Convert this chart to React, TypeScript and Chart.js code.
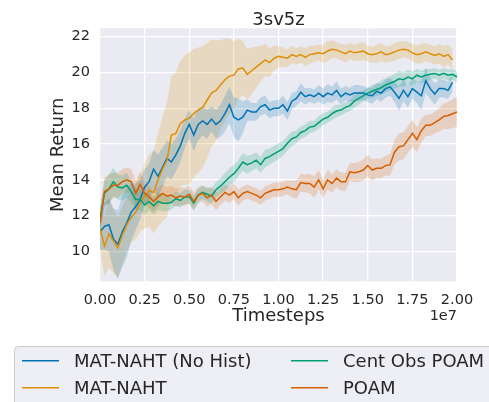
import React, { useEffect, useRef } from 'react';
import { Chart, registerables } from 'chart.js';

Chart.register(...registerables);

const TITLE = '3sv5z';
const X_LABEL = 'Timesteps';
const Y_LABEL = 'Mean Return';
const X_OFFSET_LABEL = '1e7';

// timesteps in millions
const TIMESTEPS_M = [
  0, 0.25, 0.5, 0.75, 1, 1.25, 1.5, 1.75, 2, 2.25,
  2.5, 2.75, 3, 3.25, 3.5, 3.75, 4, 4.25, 4.5, 4.75,
  5, 5.25, 5.5, 5.75, 6, 6.25, 6.5, 6.75, 7, 7.25,
  7.5, 7.75, 8, 8.25, 8.5, 8.75, 9, 9.25, 9.5, 9.75,
  10, 10.25, 10.5, 10.75, 11, 11.25, 11.5, 11.75, 12, 12.25,
  12.5, 12.75, 13, 13.25, 13.5, 13.75, 14, 14.25, 14.5, 14.75,
  15, 15.25, 15.5, 15.75, 16, 16.25, 16.5, 16.75, 17, 17.25,
  17.5, 17.75, 18, 18.25, 18.5, 18.75, 19, 19.25, 19.5, 19.75, 20,
];

const SERIES_NAMES = ['MAT-NAHT (No Hist)', 'MAT-NAHT', 'Cent Obs POAM', 'POAM'];
const SERIES_COLORS = ['#0173b2', '#de8f05', '#029e73', '#d55e00'];
const BAND_COLORS = [
  'rgba(1,115,178,0.2)',
  'rgba(222,143,5,0.2)',
  'rgba(2,158,115,0.2)',
  'rgba(213,94,0,0.2)',
];

const NOHIST_MEAN = [
  11.1, 11.4, 11.5, 10.7, 10.4, 11.1, 11.6, 12.2, 12.5, 12.9,
  13.6, 13.9, 14.6, 14.2, 14.7, 15.2, 15.0, 15.4, 15.9, 16.6,
  17.1, 16.5, 17.1, 17.3, 17.1, 17.4, 17.1, 17.3, 17.7, 18.2,
  17.5, 17.35, 17.5, 17.9, 17.8, 17.8, 18.1, 18.2, 17.9, 18.0,
  18.0, 18.2, 17.85, 18.4, 18.55, 18.9, 18.65, 18.75, 18.65, 18.85,
  18.65, 18.85, 18.75, 19.0, 18.65, 18.85, 18.75, 18.85, 18.85, 18.85,
  18.75, 18.7, 18.95, 18.85, 19.1, 19.2, 18.9, 18.55, 19.0, 18.65,
  19.1, 18.9, 18.7, 19.55, 19.1, 18.8, 19.1, 19.1, 19.0, 19.45, null,
];
const NOHIST_SPREAD = [
  1.0, 1.3, 1.5, 1.7, 1.9, 2.0, 1.9, 1.6, 1.3, 1.1,
  1.0, 1.0, 1.1, 1.2, 1.1, 1.0, 1.0, 0.9, 0.9, 0.8,
  0.8, 0.9, 0.9, 0.8, 0.8, 0.7, 0.8, 0.9, 1.0, 1.0,
  1.1, 1.2, 0.9, 0.6, 0.5, 0.5, 0.5, 0.5, 0.45, 0.45,
  0.45, 0.5, 0.5, 0.45, 0.4, 0.5, 0.45, 0.4, 0.4, 0.45,
  0.45, 0.5, 0.45, 0.5, 0.45, 0.4, 0.4, 0.45, 0.45, 0.4,
  0.4, 0.45, 0.45, 0.5, 0.5, 0.5, 0.55, 0.7, 0.6, 0.6,
  0.55, 0.6, 0.8, 0.7, 0.6, 0.6, 0.5, 0.5, 0.5, 0.5, null,
];

const NAHT_MEAN = [
  11.3, 10.3, 11.0, 10.6, 10.2, 10.9, 11.5, 11.9, 12.2, 12.7,
  13.1, 13.4, 13.3, 14.0, 14.6, 15.1, 16.5, 16.6, 17.15, 17.35,
  17.45, 17.7, 17.9, 18.05, 18.45, 18.85, 19.0, 19.3, 19.6, 19.8,
  19.85, 20.2, 20.25, 19.9, 20.1, 20.3, 20.5, 20.7, 20.55, 20.8,
  20.9, 20.85, 20.8, 21.0, 20.9, 21.0, 20.85, 21.0, 21.05, 21.1,
  21.05, 21.2, 21.3, 21.25, 21.15, 21.05, 21.2, 21.1, 21.15, 21.2,
  21.05, 21.0, 21.05, 21.15, 21.0, 21.05, 21.15, 21.25, 21.3, 21.25,
  21.1, 21.0, 21.05, 21.15, 21.05, 20.95, 21.05, 20.9, 21.0, 20.7, null,
];
const NAHT_SPREAD = [
  1.2, 1.7, 1.9, 1.8, 1.7, 1.6, 1.5, 1.4, 1.5, 1.6,
  1.8, 2.0, 2.3, 2.6, 2.9, 3.2, 3.3, 3.4, 3.5, 3.6,
  3.7, 3.6, 3.5, 3.4, 3.2, 3.0, 2.8, 2.5, 2.3, 2.1,
  1.9, 1.7, 1.5, 1.4, 1.3, 1.15, 1.0, 0.9, 0.8, 0.7,
  0.6, 0.55, 0.5, 0.5, 0.45, 0.45, 0.5, 0.5, 0.45, 0.45,
  0.5, 0.55, 0.5, 0.45, 0.45, 0.5, 0.45, 0.45, 0.5, 0.5,
  0.45, 0.45, 0.5, 0.5, 0.45, 0.45, 0.5, 0.5, 0.45, 0.45,
  0.5, 0.5, 0.55, 0.5, 0.5, 0.5, 0.55, 0.6, 0.55, 0.6, null,
];

const CENT_MEAN = [
  11.8, 13.25, 13.5, 13.9, 13.6, 13.55, 13.7, 13.35, 12.9, 12.9,
  12.6, 12.8, 12.55, 12.8, 12.7, 12.7, 12.75, 12.95, 12.85, 13.05,
  13.05, 12.7, 13.15, 13.3, 13.2, 13.1, 13.45, 13.65, 13.9, 14.15,
  14.35, 14.65, 15.0, 14.85, 14.95, 15.1, 14.85, 15.2, 15.3, 15.45,
  15.6, 15.75, 16.05, 16.3, 16.4, 16.65, 16.75, 16.95, 17.0, 17.2,
  17.4, 17.5, 17.7, 17.85, 17.9, 18.05, 18.15, 18.4, 18.55, 18.7,
  18.85, 18.95, 19.05, 19.15, 19.3, 19.4, 19.5, 19.65, 19.6, 19.75,
  19.65, 19.85, 19.75, 19.85, 19.9, 19.95, 19.85, 19.95, 19.85, 19.9, 19.75,
];
const CENT_SPREAD = [
  0.6, 0.7, 0.8, 0.8, 0.7, 0.7, 0.7, 0.6, 0.6, 0.6,
  0.55, 0.5, 0.5, 0.5, 0.45, 0.45, 0.4, 0.4, 0.4, 0.4,
  0.4, 0.4, 0.35, 0.35, 0.4, 0.4, 0.45, 0.45, 0.5, 0.5,
  0.5, 0.45, 0.5, 0.5, 0.45, 0.45, 0.45, 0.5, 0.45, 0.45,
  0.45, 0.4, 0.4, 0.4, 0.35, 0.35, 0.35, 0.35, 0.3, 0.35,
  0.35, 0.3, 0.35, 0.35, 0.3, 0.3, 0.3, 0.35, 0.35, 0.3,
  0.3, 0.35, 0.35, 0.4, 0.4, 0.4, 0.4, 0.45, 0.4, 0.4,
  0.4, 0.35, 0.35, 0.35, 0.3, 0.3, 0.3, 0.3, 0.3, 0.3, 0.3,
];

const POAM_MEAN = [
  11.6, 13.35, 13.5, 13.7, 13.7, 13.9, 14.0, 13.9, 13.25, 13.75,
  13.25, 13.05, 12.8, 13.05, 13.25, 13.1, 13.15, 13.0, 13.1, 13.05,
  13.2, 12.8, 13.15, 13.25, 13.0, 13.15, 12.8, 13.05, 13.3, 13.15,
  13.35, 13.0, 13.25, 13.35, 13.25, 13.15, 13.0, 13.25, 13.35, 13.45,
  13.45, 13.5, 13.6, 13.5, 13.45, 13.85, 13.8, 13.8, 13.6, 14.0,
  13.5, 14.0, 13.8, 14.1, 13.9, 13.9, 14.45, 14.4, 14.45, 14.55,
  14.8, 14.55, 14.65, 14.65, 14.8, 14.85, 15.55, 15.85, 15.9, 16.25,
  16.6, 16.25, 16.75, 17.05, 17.05, 17.2, 17.35, 17.55, 17.6, 17.7, 17.8,
];
const POAM_SPREAD = [
  0.8, 0.8, 0.8, 0.7, 0.7, 0.7, 0.7, 0.7, 0.7, 0.7,
  0.6, 0.6, 0.6, 0.55, 0.5, 0.5, 0.5, 0.5, 0.5, 0.5,
  0.5, 0.5, 0.45, 0.45, 0.5, 0.5, 0.5, 0.45, 0.45, 0.45,
  0.45, 0.45, 0.4, 0.4, 0.4, 0.4, 0.4, 0.4, 0.4, 0.4,
  0.4, 0.4, 0.4, 0.45, 0.5, 0.5, 0.5, 0.55, 0.6, 0.55,
  0.5, 0.55, 0.5, 0.5, 0.5, 0.5, 0.5, 0.55, 0.55, 0.6,
  0.6, 0.6, 0.55, 0.55, 0.55, 0.6, 0.7, 0.75, 0.75, 0.75,
  0.75, 0.7, 0.65, 0.6, 0.6, 0.6, 0.65, 0.7, 0.75, 0.8, 0.85,
];

const MEANS = [NOHIST_MEAN, NAHT_MEAN, CENT_MEAN, POAM_MEAN];
const SPREADS = [NOHIST_SPREAD, NAHT_SPREAD, CENT_SPREAD, POAM_SPREAD];

const FONT = '"DejaVu Sans", sans-serif';
const TEXT_COLOR = '#262626';

function pts(mean: (number | null)[], spread: (number | null)[], sign: number) {
  return TIMESTEPS_M.map((t, i) => {
    const m = mean[i];
    const s = spread[i];
    if (m === null || m === undefined) return { x: t * 1e6, y: null };
    return { x: t * 1e6, y: sign === 0 ? m : m + sign * (s ?? 0) };
  });
}

const bgPlugin = {
  id: 'bgPlugin',
  beforeDraw(chart: any) {
    const { ctx, chartArea } = chart;
    ctx.save();
    ctx.fillStyle = '#eaeaf2';
    ctx.fillRect(chartArea.left, chartArea.top, chartArea.right - chartArea.left, chartArea.bottom - chartArea.top);
    ctx.restore();
  },
};

const decorPlugin = {
  id: 'decorPlugin',
  afterDraw(chart: any) {
    const { ctx, chartArea } = chart;
    ctx.save();
    // title
    ctx.fillStyle = TEXT_COLOR;
    ctx.font = `18px ${FONT}`;
    ctx.textAlign = 'center';
    ctx.textBaseline = 'alphabetic';
    ctx.fillText(TITLE, (chartArea.left + chartArea.right) / 2, 24.5);
    // offset label
    ctx.font = `14.5px ${FONT}`;
    ctx.textAlign = 'right';
    ctx.fillText(X_OFFSET_LABEL, chartArea.right, 319.5);

    // legend box
    const bx = 14.5, by = 346.5, bw = 500, bh = 80, r = 4;
    ctx.beginPath();
    ctx.moveTo(bx + r, by);
    ctx.lineTo(bx + bw - r, by);
    ctx.quadraticCurveTo(bx + bw, by, bx + bw, by + r);
    ctx.lineTo(bx + bw, by + bh - r);
    ctx.quadraticCurveTo(bx + bw, by + bh, bx + bw - r, by + bh);
    ctx.lineTo(bx + r, by + bh);
    ctx.quadraticCurveTo(bx, by + bh, bx, by + bh - r);
    ctx.lineTo(bx, by + r);
    ctx.quadraticCurveTo(bx, by, bx + r, by);
    ctx.closePath();
    ctx.fillStyle = '#eeeef5';
    ctx.fill();
    ctx.strokeStyle = '#cccccc';
    ctx.lineWidth = 1;
    ctx.stroke();

    const cols = [{ lx: 22, tx: 74 }, { lx: 291, tx: 343 }];
    const rows = [360.7, 387.7];
    ctx.font = `18px ${FONT}`;
    ctx.textAlign = 'left';
    ctx.textBaseline = 'alphabetic';
    SERIES_NAMES.forEach((name, i) => {
      const c = cols[Math.floor(i / 2)];
      const ry = rows[i % 2];
      ctx.strokeStyle = SERIES_COLORS[i];
      ctx.lineWidth = 1.5;
      ctx.beginPath();
      ctx.moveTo(c.lx, ry);
      ctx.lineTo(c.lx + 37, ry);
      ctx.stroke();
      ctx.fillStyle = TEXT_COLOR;
      ctx.fillText(name, c.tx, ry + 6.6);
    });
    ctx.restore();
  },
};

export default function App() {
  const ref = useRef<HTMLCanvasElement | null>(null);
  useEffect(() => {
    if (!ref.current) return;
    const datasets: any[] = [];
    const lineOrder = [3, 2, 1, 0];
    MEANS.forEach((mean, i) => {
      datasets.push({
        label: SERIES_NAMES[i] + ' upper',
        data: pts(mean, SPREADS[i], 1),
        borderWidth: 0,
        borderColor: 'rgba(0,0,0,0)',
        backgroundColor: BAND_COLORS[i],
        pointRadius: 0,
        fill: '+1',
        order: 20 + i,
        spanGaps: false,
      });
      datasets.push({
        label: SERIES_NAMES[i] + ' lower',
        data: pts(mean, SPREADS[i], -1),
        borderWidth: 0,
        borderColor: 'rgba(0,0,0,0)',
        backgroundColor: 'rgba(0,0,0,0)',
        pointRadius: 0,
        fill: false,
        order: 20 + i,
        spanGaps: false,
      });
    });
    MEANS.forEach((mean, i) => {
      datasets.push({
        label: SERIES_NAMES[i],
        data: pts(mean, SPREADS[i], 0),
        borderWidth: 1.5,
        borderColor: SERIES_COLORS[i],
        backgroundColor: SERIES_COLORS[i],
        pointRadius: 0,
        fill: false,
        order: lineOrder[i],
        spanGaps: false,
      });
    });

    const chart = new Chart(ref.current, {
      type: 'line',
      data: { datasets },
      options: {
        responsive: false,
        animation: false,
        devicePixelRatio: 1,
        layout: { padding: { top: 28.3, left: 0, right: 32, bottom: 75.3 } },
        plugins: {
          legend: { display: false },
          title: { display: false },
          tooltip: { enabled: false },
        },
        elements: { point: { radius: 0 }, line: { tension: 0 } },
        scales: {
          x: {
            type: 'linear',
            min: 0,
            max: 2e7,
            grid: { color: '#ffffff', lineWidth: 1.3, drawTicks: false },
            border: { display: false },
            ticks: {
              stepSize: 2.5e6,
              padding: 10,
              color: TEXT_COLOR,
              font: { family: FONT, size: 14.5 },
              maxRotation: 0,
              autoSkip: false,
              callback: (v: any) => (Number(v) / 1e7).toFixed(2),
            },
            title: {
              display: true,
              text: X_LABEL,
              color: TEXT_COLOR,
              font: { family: FONT, size: 18 },
              padding: { top: 0, bottom: 0 },
            },
            afterFit: (s: any) => { s.height = 45.3; },
          },
          y: {
            min: 8.33,
            max: 22.47,
            grid: { color: '#ffffff', lineWidth: 1.3, drawTicks: false },
            border: { display: false },
            ticks: {
              stepSize: 2,
              includeBounds: false,
              padding: 10,
              color: TEXT_COLOR,
              font: { family: FONT, size: 14.5 },
            },
            title: {
              display: true,
              text: Y_LABEL,
              color: TEXT_COLOR,
              font: { family: FONT, size: 18 },
              padding: { top: 47.5, bottom: 0 },
            },
            afterFit: (s: any) => { s.width = 100; },
          },
        },
      } as any,
      plugins: [bgPlugin, decorPlugin],
    });
    return () => chart.destroy();
  }, []);

  return (
    <div style={{ position: 'fixed', left: 0, top: 0, width: 489, height: 402, background: '#ffffff' }}>
      <canvas ref={ref} width={489} height={402} style={{ display: 'block', width: 489, height: 402 }} />
    </div>
  );
}
